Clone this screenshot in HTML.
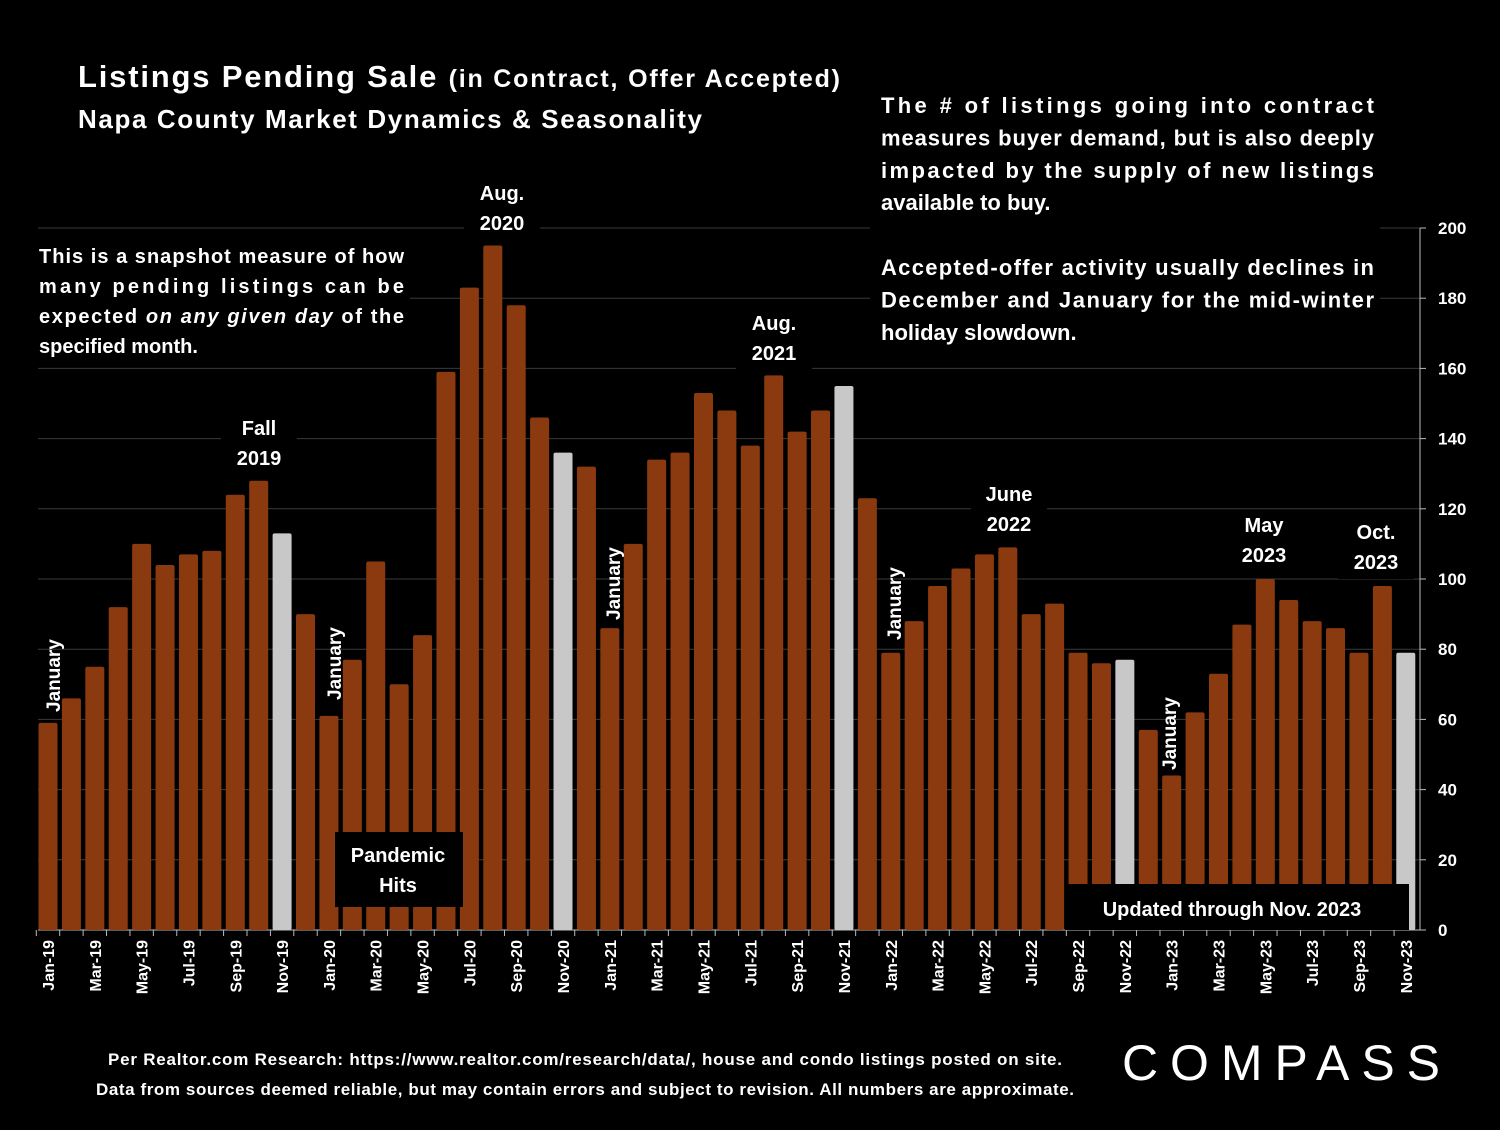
<!DOCTYPE html>
<html><head><meta charset="utf-8"><style>
body{margin:0;background:#000;width:1500px;height:1125px;overflow:hidden;font-family:"Liberation Sans",sans-serif}
svg text{font-family:"Liberation Sans",sans-serif;font-weight:bold;fill:#fff}
</style></head><body>
<svg id="chart" width="1500" height="1125">
<g id="grid"></g><g id="bars"></g><g id="axis"></g><g id="notes"></g>
</svg>
<script>
const months=["Jan-19","Feb-19","Mar-19","Apr-19","May-19","Jun-19","Jul-19","Aug-19","Sep-19","Oct-19","Nov-19","Dec-19","Jan-20","Feb-20","Mar-20","Apr-20","May-20","Jun-20","Jul-20","Aug-20","Sep-20","Oct-20","Nov-20","Dec-20","Jan-21","Feb-21","Mar-21","Apr-21","May-21","Jun-21","Jul-21","Aug-21","Sep-21","Oct-21","Nov-21","Dec-21","Jan-22","Feb-22","Mar-22","Apr-22","May-22","Jun-22","Jul-22","Aug-22","Sep-22","Oct-22","Nov-22","Dec-22","Jan-23","Feb-23","Mar-23","Apr-23","May-23","Jun-23","Jul-23","Aug-23","Sep-23","Oct-23","Nov-23"];
const pending=[59,66,75,92,110,104,107,108,124,128,113,90,61,77,105,70,84,159,183,195,178,146,136,132,86,110,134,136,153,148,138,158,142,148,155,123,79,88,98,103,107,109,90,93,79,76,77,57,44,62,73,87,100,94,88,86,79,98,79];
const highlighted=["Nov-19","Nov-20","Nov-21","Nov-22","Nov-23"];
const yTicks=[0,20,40,60,80,100,120,140,160,180,200];
const NS="http://www.w3.org/2000/svg";
const y=v=>930-v*3.51;
const x=i=>48+i*23.41;
function mk(tag,attrs,parent,txt){const e=document.createElementNS(NS,tag);for(const k in attrs)e.setAttribute(k,attrs[k]);if(txt!==undefined)e.textContent=txt;parent.appendChild(e);return e;}
const grid=document.getElementById('grid'),bars=document.getElementById('bars'),axis=document.getElementById('axis'),notes=document.getElementById('notes');
yTicks.forEach(t=>{
 const l=mk('line',{x1:38,x2:1420,y1:y(t),y2:y(t),stroke:t===0?'#bbb':'#3a3a3a','stroke-width':1},grid);
 
 
 mk('line',{x1:1420,x2:1426,y1:y(t),y2:y(t),stroke:'#bbb'},axis);
 const tx=mk('text',{x:1438,y:y(t)+6,'font-size':17},axis,t);
 
 
});
mk('line',{x1:1420,x2:1420,y1:228,y2:930,stroke:'#bbb'},axis);
pending.forEach((v,i)=>{
 const r=mk('rect',{x:x(i)-9.5,y:y(v),width:19,height:v*3.51,rx:2,fill:highlighted.includes(months[i])?'#c8c8c8':'#8b3a0f'},bars);
 
 
 mk('line',{x1:x(i)-11.7,x2:x(i)-11.7,y1:930,y2:936,stroke:'#bbb'},axis);
 if(i%2===0){
  const t=mk('text',{transform:`translate(${x(i)+6},${940}) rotate(-90)`,'font-size':16,'text-anchor':'end'},axis,months[i]);
  
  
 }
});
function box(x0,y0,w,h,name){const r=mk('rect',{x:x0,y:y0,width:w,height:h,fill:'#000'},notes);}
function txt(s,x0,y0,size,anchor,name,rot,len){const a={x:x0,y:y0,'font-size':size,'text-anchor':anchor||'start'};if(rot)a.transform=`rotate(-90 ${x0} ${y0})`;if(len){a.textLength=len;a.lengthAdjust='spacing';}const t=mk('text',a,notes,s);return t;}
box(30,50,830,95,'title-bg');
const t1=txt('Listings Pending Sale ',78,87,31,'start','chart-title',false,762);
mk('tspan',{'font-size':25},t1,'(in Contract, Offer Accepted)');
txt('Napa County Market Dynamics & Seasonality',78,128,26,'start','chart-subtitle',false,624);
box(870,85,510,260,'right-note-bg');
[['The # of listings going into contract',1],['measures buyer demand, but is also deeply',1],['impacted by the supply of new listings',1],['available to buy.',0],['',0],['Accepted-offer activity usually declines in',1],['December and January for the mid-winter',1],['holiday slowdown.',0]].forEach((s,i)=>{if(s[0])txt(s[0],881,113+i*32.4,22,'start','right-note-line',false,s[1]?493:null);});
box(30,238,380,125,'left-note-bg');
['This is a snapshot measure of how','many pending listings can be'].forEach((s,i)=>txt(s,39,263+i*30,20,'start','left-note-line',false,365));
const l3=txt('expected ',39,323,20,'start','left-note-line',false,365);mk('tspan',{'font-style':'italic'},l3,'on any given day');mk('tspan',{},l3,' of the');
txt('specified month.',39,353,20,'start','left-note-line');
[['Fall','2019',259,435],['Aug.','2020',502,200],['Aug.','2021',774,330],['June','2022',1009,501],['May','2023',1264,532],['Oct.','2023',1376,539]].forEach(a=>{
 box(a[2]-38,a[3]-22,76,62,'peak-label-bg');txt(a[0],a[2],a[3],20,'middle','peak-label');txt(a[1],a[2],a[3]+30,20,'middle','peak-label');});
[[60,712],[341,700],[620,620],[901,640],[1176,770]].forEach(a=>txt('January',a[0],a[1],19,'start','january-label',true));
box(335,832,128,75,'pandemic-bg');
txt('Pandemic',398,862,20,'middle','pandemic-label');txt('Hits',398,892,20,'middle','pandemic-label');
box(1065,884,344,46,'updated-bg');
txt('Updated through Nov. 2023',1232,916,20,'middle','updated-label');
txt('Per Realtor.com Research:  https://www.realtor.com/research/data/, house and condo listings posted on site.',108,1065,17,'start','source-note',false,954);
txt('Data from sources deemed reliable, but may contain errors and subject to revision. All numbers are approximate.',96,1095,17,'start','disclaimer-note',false,978);
const c=txt('COMPASS',1122,1080,50,'start','compass-logo',false,318);c.setAttribute('style','font-weight:normal');
</script>
</body></html>
